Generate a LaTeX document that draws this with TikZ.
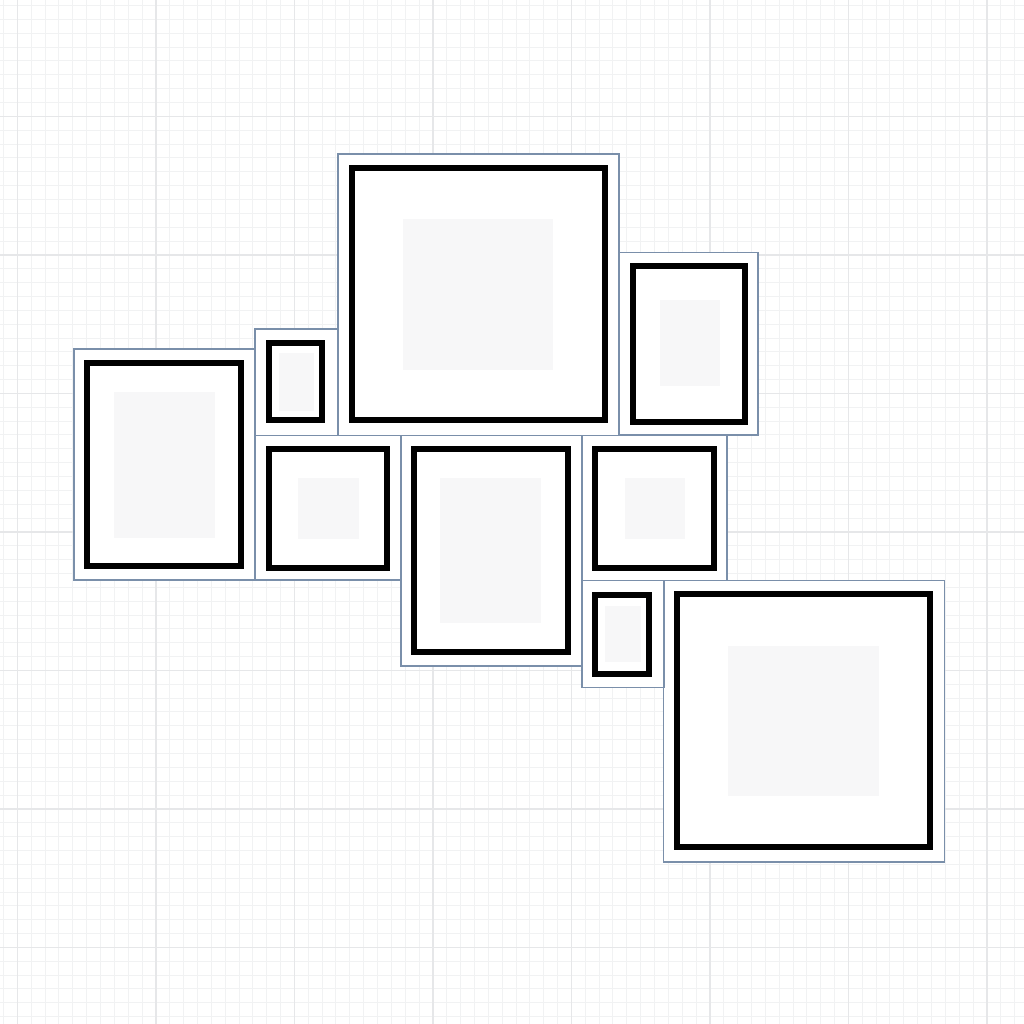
\documentclass[tikz,border=0pt]{standalone}
\definecolor{minorc}{RGB}{241,242,243}
\definecolor{majorc}{RGB}{230,231,233}
\definecolor{outerc}{RGB}{122,143,170}
\definecolor{photoc}{RGB}{247,247,248}
\begin{document}
\begin{tikzpicture}[x=1pt,y=-1pt,
  minorgrid/.style={draw=minorc,line width=0.8pt},
  majorgrid/.style={draw=majorc,line width=1.4pt},
  matfill/.style={fill=white},
  outerline/.style={draw=outerc,line width=1.1pt},
  blackframe/.style={draw=black,line width=5.6pt},
  photo/.style={fill=photoc}]
\useasboundingbox (0,0) rectangle (1024,1024);
\fill[white] (0,0) rectangle (1024,1024);
% grid
\foreach \i in {-1,...,73} {
  \draw[minorgrid] ({17.3+13.85*\i},0) -- ({17.3+13.85*\i},1024);
}
\foreach \i in {-9,...,66} {
  \draw[minorgrid] (0,{116.3+13.85*\i}) -- (1024,{116.3+13.85*\i});
}
\foreach \i in {0,...,7} {
  \draw[majorgrid] ({17.3+138.5*\i},0) -- ({17.3+138.5*\i},1024);
}
\foreach \i in {0,...,6} {
  \draw[majorgrid] (0,{116.3+138.5*\i}) -- (1024,{116.3+138.5*\i});
}
% mats (white)
\fill[matfill] (74,349) rectangle (255,580);
\fill[matfill] (338,154) rectangle (619,435.5);
\fill[matfill] (619,252.5) rectangle (758,435);
\fill[matfill] (255,329) rectangle (338,435.5);
\fill[matfill] (255,435.5) rectangle (401,580);
\fill[matfill] (401,435.5) rectangle (582,666);
\fill[matfill] (582,435.5) rectangle (727,580.5);
\fill[matfill] (582,580.5) rectangle (664,687.5);
\fill[matfill] (663.5,580.5) rectangle (944.5,862);
% outer outlines
\draw[outerline] (74,349) rectangle (255,580);
\draw[outerline] (338,154) rectangle (619,435.5);
\draw[outerline] (619,252.5) rectangle (758,435);
\draw[outerline] (255,329) rectangle (338,435.5);
\draw[outerline] (255,435.5) rectangle (401,580);
\draw[outerline] (401,435.5) rectangle (582,666);
\draw[outerline] (582,435.5) rectangle (727,580.5);
\draw[outerline] (582,580.5) rectangle (664,687.5);
\draw[outerline] (663.5,580.5) rectangle (944.5,862);
% photos
\fill[photo] (113.5,391.5) rectangle (214.5,537.5);
\fill[photo] (403,219) rectangle (553,370);
\fill[photo] (659.5,300) rectangle (720,386);
\fill[photo] (278.5,353) rectangle (313.5,410.5);
\fill[photo] (297.5,477.5) rectangle (358.5,538.5);
\fill[photo] (440,477.5) rectangle (541,622.5);
\fill[photo] (624.5,477.5) rectangle (685,538.5);
\fill[photo] (604.5,605.5) rectangle (640.5,661.5);
\fill[photo] (728,645.5) rectangle (879,796);
% black frames
\draw[blackframe] (87.25,363.25) rectangle (240.75,566.25);
\draw[blackframe] (351.75,167.75) rectangle (604.75,420.25);
\draw[blackframe] (633.25,266.25) rectangle (744.75,422.25);
\draw[blackframe] (268.75,342.75) rectangle (322.25,420.25);
\draw[blackframe] (268.75,449.25) rectangle (387.25,567.75);
\draw[blackframe] (414.25,449.25) rectangle (567.75,652.25);
\draw[blackframe] (595.25,449.25) rectangle (714.25,567.75);
\draw[blackframe] (595.25,594.75) rectangle (649.25,673.75);
\draw[blackframe] (676.75,594.25) rectangle (930.25,847.25);
\end{tikzpicture}
\end{document}
